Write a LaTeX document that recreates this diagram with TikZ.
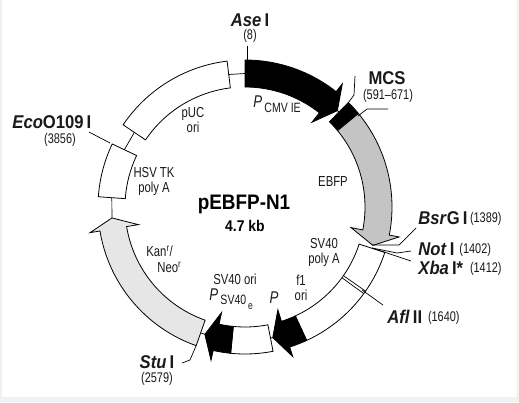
\documentclass[tikz,border=0pt]{standalone}
\usepackage{fontspec}
\setmainfont[FakeStretch=0.78, BoldFeatures={FakeStretch=0.9}, BoldItalicFeatures={FakeStretch=0.9}]{Liberation Sans}
\usetikzlibrary{positioning}
\definecolor{cedge}{HTML}{F1F1F1}
\definecolor{cband}{HTML}{C4C4C4}
\definecolor{cpale}{HTML}{E6E6E6}
\definecolor{cink}{HTML}{1A1A1A}
\newcommand{\ringbox}[3]{\draw[#1] (#2:147) arc[start angle=#2, end angle=#3, radius=147] -- (#3:120) arc[start angle=#3, end angle=#2, radius=120] -- cycle;}
\newcommand{\ringarrow}[4]{\draw[#1] (#2:147) arc[start angle=#2, end angle=#3, radius=147] -- (#3:157) -- (#4:133.5) -- (#3:108) -- (#3:120) arc[start angle=#3, end angle=#2, radius=120] -- cycle;}
\tikzset{
  every picture/.style={font=\rmfamily, line width=0.8pt},
  part/.style={draw=black, fill=#1, line join=miter},
  part/.default=white,
  tick/.style={draw=black, line width=0.7pt},
  site/.style={font=\bfseries\fontsize{18.5}{18}\selectfont, text=cink, inner sep=0pt},
  sitenum/.style={font=\fontsize{14}{14}\selectfont, text=cink, inner sep=0pt},
  lab/.style={font=\fontsize{14.5}{15}\selectfont, text=cink, inner sep=0pt, align=center},
  title/.style={font=\bfseries\fontsize{21}{21}\selectfont, text=black, inner sep=0pt},
}
\begin{document}
\begin{tikzpicture}[x=1pt, y=1pt]
  \useasboundingbox (0,0) rectangle (519,-402);
  \fill[cedge] (0,0) rectangle (519,-402);
  \fill[white] (2,0) rectangle (517,-397);
  \begin{scope}[shift={(245,-207)}]
    % ticks between the parts
    \coordinate (uA) at (97:133.5);
    \coordinate (uB) at (90:133.5);
    \coordinate (hA) at (154.6:133.5);
    \coordinate (hB) at (146:133.5);
    \coordinate (kA) at (176:133.5);
    \coordinate (kB) at (184.7:133.5);
    \coordinate (gA) at (-107.5:133.5);
    \coordinate (gB) at (-109.4:133.5);
    \coordinate (wA) at (-78:133.5);
    \coordinate (wB) at (-79:133.5);
    \coordinate (mA) at (45.3:133.5);
    \coordinate (mB) at (46.2:133.5);
    \draw[tick] (uA) -- (uB);
    \draw[tick] (hA) -- (hB);
    \draw[tick] (kA) -- (kB);
    \draw[tick] (gA) -- (gB);
    \draw[tick] (wA) -- (wB);
    \draw[tick] (mA) -- (mB);
    % backbone parts
    \ringarrow{part=black}{90}{51.7}{46.2}
    \ringbox{part=black}{45.3}{39.5}
    \ringarrow{part=cband}{39.5}{-11}{-16.7}
    \ringbox{part}{-18}{-65.2}
    \ringarrow{part=black}{-65.2}{-72.3}{-78}
    \ringbox{part}{-79}{-95.6}
    \ringarrow{part=black}{-95.6}{-102.5}{-107.5}
    \ringarrow{part=cpale}{250.6}{189.4}{184.7}
    \ringbox{part}{176}{154.6}
    \ringbox{part}{146}{97}
    % afl double rule
    \draw[tick] (-34.9:120) -- (-34.9:147);
    \draw[tick] (-36.1:120) -- (-36.1:147);
  \end{scope}
  % site leaders
  \coordinate (aseT) at (247,-60);
  \coordinate (aseE) at (247,-46);
  \draw[tick] (aseT) -- (aseE);
  \coordinate (mcsT) at (348,-103);
  \coordinate (mcsE) at (355,-76);
  \draw[tick] (mcsT) -- (354,-95) -- (mcsE);
  \coordinate (mcsS) at (358,-116);
  \coordinate (mcsF) at (388,-109);
  \draw[tick] (mcsS) -- (367,-109) -- (mcsF);
  \coordinate (bsrS) at (372,-245);
  \coordinate (bsrE) at (416,-228);
  \draw[tick] (bsrS) -- (399,-245) -- (bsrE);
  \coordinate (notS) at (372,-248);
  \coordinate (notE) at (411,-251);
  \draw[tick] (notS) -- (397,-253) -- (notE);
  \coordinate (xbaE) at (411,-261);
  \draw[tick] (notS) -- (xbaE);
  \coordinate (aflS) at (362,-290);
  \coordinate (aflE) at (383,-305);
  \draw[tick] (aflS) -- (aflE);
  \coordinate (stuS) at (196,-346);
  \coordinate (stuE) at (182,-363);
  \draw[tick] (stuS) -- (190,-360) -- (stuE);
  \coordinate (ecoS) at (110,-143);
  \coordinate (ecoE) at (89,-132);
  \draw[tick] (ecoS) -- (ecoE);
  % site labels
  \node[site] (ase) at (250,-20) {\textit{Ase}\,I};
  \node[sitenum] (aseN) at (250,-36) {(8)};
  \node[site] (mcs) at (387,-78) {MCS};
  \node[sitenum] (mcsN) at (388,-96) {(591–671)};
  \node[site, anchor=west] (bsr) at (418,-218) {\textit{Bsr}G\,I};
  \node[sitenum, anchor=east] (bsrN) at (502,-219) {(1389)};
  \node[site, anchor=west] (not) at (418,-249) {\textit{Not}\,I};
  \node[sitenum, anchor=west] (notN) at (459,-250) {(1402)};
  \node[site, anchor=west] (xba) at (418,-268) {\textit{Xba}\,I*};
  \node[sitenum, anchor=east] (xbaN) at (502,-269) {(1412)};
  \node[site, anchor=west] (afl) at (387,-317) {\textit{Afl}\,II};
  \node[sitenum, anchor=east] (aflN) at (460,-318) {(1640)};
  \node[site] (stu) at (157,-362) {\textit{Stu}\,I};
  \node[sitenum] (stuN) at (157,-379) {(2579)};
  \node[site, anchor=west] (eco) at (12,-122) {\textit{Eco}O109\,I};
  \node[sitenum] (ecoN) at (60,-140) {(3856)};
  % part labels
  \node[title] (pname) at (244,-204) {pEBFP-N1};
  \node[font=\bfseries\fontsize{15.5}{15}\selectfont, inner sep=0pt] (psize) at (245,-226) {4.7 kb};
  \node[lab, anchor=west] (cmv) at (253,-104) {\fontsize{17}{17}\selectfont\textit{P}\raisebox{-5pt}{\fontsize{13.5}{15}\selectfont\,CMV IE}};
  \node[lab] (puc) at (193,-120) {pUC\\ori};
  \node[lab] (hsv) at (154,-181) {HSV TK\\poly A};
  \node[lab] (ebfp) at (333,-182) {EBFP};
  \node[lab] (polya) at (324,-252) {SV40\\poly A};
  \node[lab] (f1) at (301,-288) {f1\\ori};
  \node[lab] (svori) at (235,-279) {SV40 ori};
  \node[lab, anchor=west] (psv) at (209,-299) {\fontsize{17}{17}\selectfont\textit{P}\raisebox{-4pt}{\fontsize{13.5}{15}\selectfont\,SV40}\raisebox{-9pt}{\fontsize{11}{11}\selectfont\,e}};
  \node[lab, font=\fontsize{17}{17}\selectfont] (p) at (274,-298) {\textit{P}};
  \node[lab, anchor=west] (kan) at (146,-251) {Kan\textsuperscript{r}/};
  \node[lab, anchor=west] (neo) at (157,-267) {Neo\textsuperscript{r}};
\end{tikzpicture}
\end{document}
